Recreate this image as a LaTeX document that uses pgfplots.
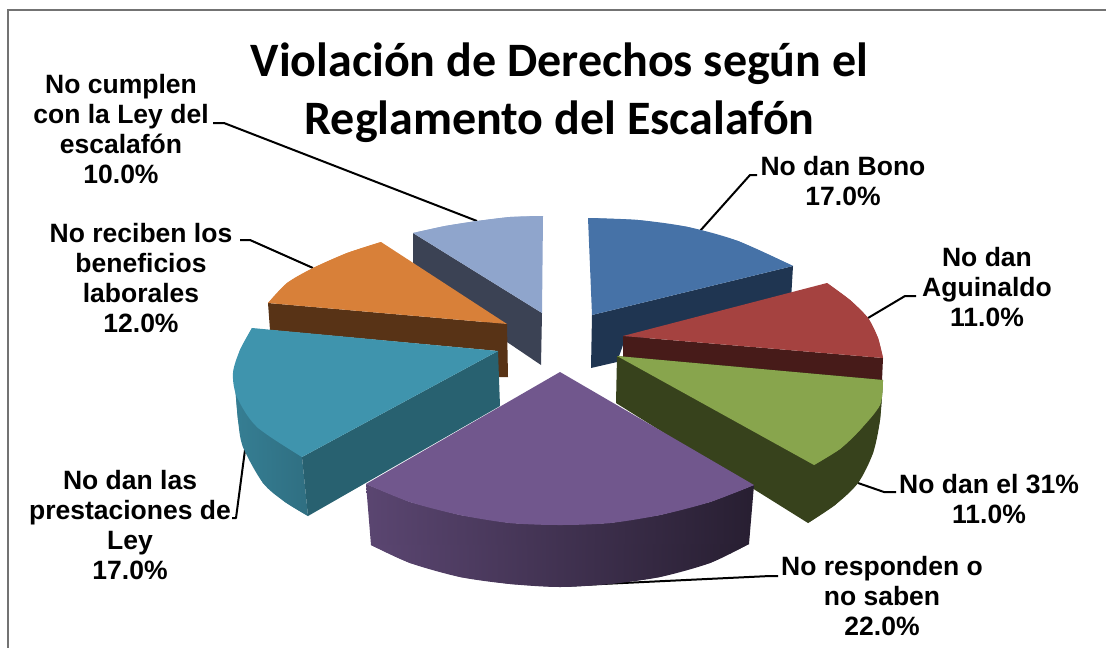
\documentclass[border=0pt]{standalone}
\usepackage{pgfplots}
\usepackage{fontspec}
\pgfplotsset{compat=1.18}
\setmainfont{Liberation Sans}
\newfontfamily\titlefont{Carlito}
\definecolor{blueT}{HTML}{4672A7}\definecolor{blueS}{HTML}{1F3551}
\definecolor{redT}{HTML}{A54240}\definecolor{redS}{HTML}{471B19}
\definecolor{greenT}{HTML}{88A54D}\definecolor{greenS}{HTML}{37421C}
\definecolor{purpT}{HTML}{71578D}
\definecolor{tealT}{HTML}{3F94AD}\definecolor{tealS}{HTML}{286170}
\definecolor{orangeT}{HTML}{D88039}\definecolor{orangeS}{HTML}{583316}
\definecolor{skyT}{HTML}{8FA5CC}\definecolor{skyS}{HTML}{3B4254}
\tikzset{
    lbl/.style={font=\fontsize{26.5}{30.3}\selectfont\bfseries, align=center, inner sep=0pt, text=black},
    slice/.style={draw=none, fill=#1},
    arc/.style={draw=none, fill=#1, smooth},
    leader/.style={black, line width=2pt, line join=round},
    tealgrad/.style={draw=none, left color=tealT!85!black, right color=tealT!75!black},
    purpgrad/.style={draw=none, left color=purpT!80!black, middle color=purpT!55!black, right color=purpT!35!black},
}
\begin{document}
\begin{tikzpicture}
\useasboundingbox (0,0) rectangle (1106pt,648pt);
\begin{axis}[
    at={(0,0)}, anchor=south west,
    scale only axis, width=1106pt, height=648pt,
    xmin=0, xmax=1106, ymin=0, ymax=648, y dir=reverse,
    axis lines=none, clip=true,
    every axis plot/.append style={forget plot},
]
% frame
\addplot[color=gray!90!black, line width=2pt] coordinates {(8,660) (8,10) (1106,10)};

% leader lines
\addplot[leader] coordinates {(213,123) (224,123) (477,221)};
\addplot[leader] coordinates {(240,240) (250,240) (313,268)};
\addplot[leader] coordinates {(232,518) (236,518) (245,450)};
\addplot[leader] coordinates {(700,231) (750,175) (757,175)};
\addplot[leader] coordinates {(868,318) (905,296) (916,296)};
\addplot[leader] coordinates {(858,483) (884,492) (896,492)};
\addplot[leader] coordinates {(560,586) (770,576) (778,576)};

% No cumplen
\addplot[slice=skyS] coordinates {(413,233) (542,313) (541,365) (507,342) (413,263)} -- cycle;
\addplot[slice=skyT] coordinates {(413,233) (445,226) (477,221) (510,217) (543,216) (542,313)} -- cycle;
\addplot[arc=skyT] coordinates {(413,233) (445,226) (477,221) (510,217) (543,216)};
% No reciben
\addplot[slice=orangeS] coordinates {(268,303) (507,324) (508,377) (498,377) (498,351) (270,330)} -- cycle;
\addplot[slice=orangeT] coordinates {(268,303) (287,283) (313,268) (347,253) (381,242) (507,324)} -- cycle;
\addplot[arc=orangeT] coordinates {(268,303) (287,283) (313,268) (347,253) (381,242)};
% prestaciones
\addplot[tealgrad] coordinates {(233,375) (235,385) (238,420) (243,447) (263,483) (285,502) (308,516) (302,457)} -- cycle;
\addplot[tealgrad, smooth] coordinates {(235,385) (238,420) (243,447) (263,483) (285,502) (308,516)};
\addplot[slice=tealS] coordinates {(498,351) (302,457) (308,516) (500,406)} -- cycle;
\addplot[slice=tealT] coordinates {(252,328) (240,350) (233,373) (237,397) (257,427) (302,457) (498,351)} -- cycle;
\addplot[arc=tealT] coordinates {(252,328) (240,350) (233,373) (237,397) (257,427) (302,457)};
% No dan Bono
\addplot[slice=blueS] coordinates {(592,315) (793,266) (791,300) (623,345) (617,362) (591,368)} -- cycle;
\addplot[slice=blueT] coordinates {(588,218) (638,220) (688,227) (738,241) (793,266) (592,315)} -- cycle;
\addplot[arc=blueT] coordinates {(588,218) (638,220) (688,227) (738,241) (793,266)};
% Aguinaldo
\addplot[slice=redS] coordinates {(623,336) (883,358) (882,381) (623,358)} -- cycle;
\addplot[slice=redT] coordinates {(623,336) (827,283) (850,300) (868,318) (878,338) (883,358)} -- cycle;
\addplot[arc=redT] coordinates {(827,283) (850,300) (868,318) (878,338) (883,358)};
% el 31
\addplot[slice=greenS] coordinates {(617,356) (883,380) (880,420) (873,453) (858,483) (835,505) (808,523) (616,403)} -- cycle;
\addplot[arc=greenS] coordinates {(883,380) (880,420) (873,453) (858,483) (835,505) (808,523)};
\addplot[slice=greenT] coordinates {(617,356) (883,380) (880,405) (860,430) (840,449) (814,465)} -- cycle;
\addplot[arc=greenT] coordinates {(883,380) (880,405) (860,430) (840,449) (814,465)};
% No responden
\addplot[purpgrad] coordinates {(366,484) (410,502) (460,515) (510,523) (560,525) (610,523) (660,515) (710,502) (754,485) (749,544) (710,563) (660,577) (610,584) (560,587) (510,584) (460,577) (410,563) (371,545)} -- cycle;
\addplot[purpgrad, smooth] coordinates {(371,545) (410,563) (460,577) (510,584) (560,587) (610,584) (660,577) (710,563) (749,544)};
\addplot[slice=purpT] coordinates {(560,372) (754,485) (710,502) (660,515) (610,523) (560,525) (510,523) (460,515) (410,502) (366,484)} -- cycle;
\addplot[arc=purpT] coordinates {(366,484) (410,502) (460,515) (510,523) (560,525) (610,523) (660,515) (710,502) (754,485)};

\node[font=\titlefont\fontsize{48}{58}\selectfont\bfseries, align=center, inner sep=0pt] at (axis cs:559.5,93) {Violación de Derechos según el\\Reglamento del Escalafón};
\node[lbl] at (axis cs:121,129) {No cumplen\\con la Ley del\\escalafón\\10.0\%};
\node[lbl] at (axis cs:141,278) {No reciben los\\beneficios\\laborales\\12.0\%};
\node[lbl] at (axis cs:130,525) {No dan las\\prestaciones de\\Ley\\17.0\%};
\node[lbl] at (axis cs:843,181) {No dan Bono\\17.0\%};
\node[lbl] at (axis cs:987,287) {No dan\\Aguinaldo\\11.0\%};
\node[lbl] at (axis cs:989,499) {No dan el 31\%\\11.0\%};
\node[lbl] at (axis cs:882,596) {No responden o\\no saben\\22.0\%};
\end{axis}
\end{tikzpicture}
\end{document}
